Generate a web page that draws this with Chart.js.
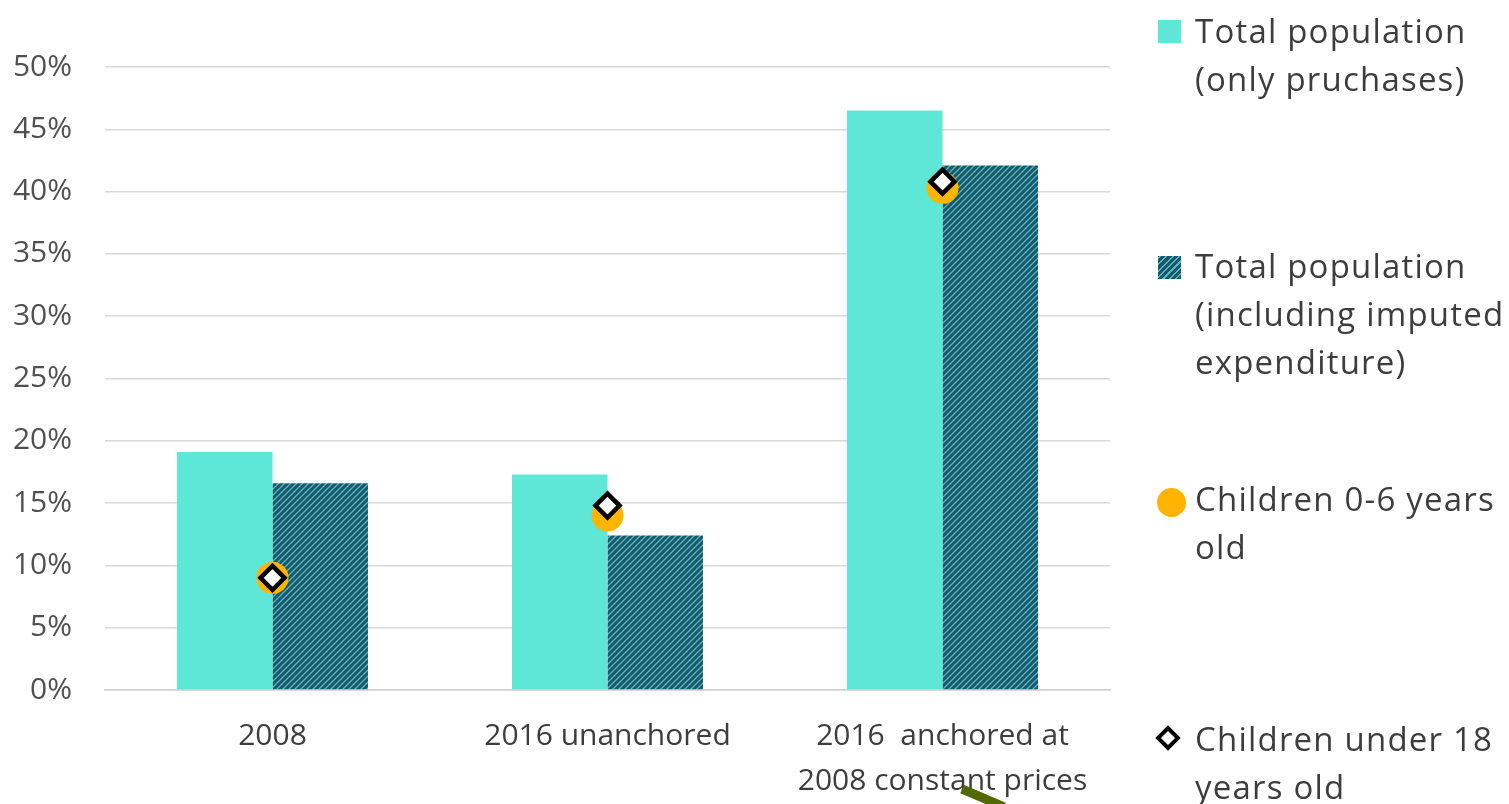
<!DOCTYPE html>
<html>
<head>
<meta charset="utf-8">
<script src="https://cdn.jsdelivr.net/npm/chart.js@4"></script>
<style>
  body { margin: 0; background: #fff; }
  #wrap { position: relative; width: 1509px; height: 804px; }
  .leg { position: absolute; left: 1195px; font-family: "Open Sans", sans-serif; font-size: 33px; line-height: 48px; letter-spacing: 1.2px; color: #3d3d3d; white-space: nowrap; }
  .mk { position: absolute; box-sizing: border-box; }
</style>
</head>
<body>
<div id="wrap">
  <canvas id="chart" width="1509" height="804"></canvas>
  <div class="mk" style="left:1158px;top:20px;width:23px;height:23px;background:#5ee6d6;"></div>
  <div class="leg" style="top:7px;">Total population<br>(only pruchases)</div>
  <div class="mk" style="left:1158px;top:256px;width:23px;height:23px;background:repeating-linear-gradient(-45deg,#145a6a 0 3px,#5fb0bd 3px 4.5px);"></div>
  <div class="leg" style="top:242px;">Total population<br>(including imputed<br>expenditure)</div>
  <div class="mk" style="left:1157px;top:488px;width:29px;height:29px;border-radius:50%;background:#ffb400;"></div>
  <div class="leg" style="top:475px;">Children 0-6 years<br>old</div>
  <div class="mk" style="left:1159px;top:729px;width:18px;height:18px;border:4px solid #000;background:#fff;transform:rotate(45deg);"></div>
  <div class="leg" style="top:715px;">Children under 18<br>years old</div>
</div>
<script>
// Data
const categories = ['2008', '2016 unanchored', ['2016  anchored at', '2008 constant prices']];
const onlyPurchases = [19.1, 17.3, 46.5];
const withImputed = [16.6, 12.4, 42.1];
const children06 = [9.0, 14.0, 40.3];
const childrenUnder18 = [9.0, 14.8, 40.8];
const yTicks = [0, 5, 10, 15, 20, 25, 30, 35, 40, 45, 50];

// Hatch pattern for the second bar series
function makeHatch() {
  const c = document.createElement('canvas');
  c.width = 6; c.height = 6;
  const g = c.getContext('2d');
  g.fillStyle = '#145a6a';
  g.fillRect(0, 0, 6, 6);
  g.strokeStyle = '#5fb0bd';
  g.lineWidth = 1.3;
  g.beginPath();
  g.moveTo(0, 6); g.lineTo(6, 0);
  g.moveTo(-1, 1); g.lineTo(1, -1);
  g.moveTo(5, 7); g.lineTo(7, 5);
  g.stroke();
  return g.createPattern(c, 'repeat');
}

// the stray olive arrow at the bottom of the picture
const arrowPlugin = {
  id: 'arrow',
  afterDraw(chart) {
    const ctx = chart.ctx;
    ctx.save();
    ctx.strokeStyle = '#526800';
    ctx.lineWidth = 9;
    ctx.beginPath();
    ctx.moveTo(962, 789);
    ctx.lineTo(1004, 807);
    ctx.stroke();
    ctx.restore();
  }
};

const ctx = document.getElementById('chart').getContext('2d');
new Chart(ctx, {
  type: 'bar',
  data: {
    labels: categories,
    datasets: [
      {
        label: 'Children under 18 years old',
        type: 'line',
        data: childrenUnder18,
        showLine: false,
        pointStyle: 'rectRot',
        pointRadius: 12,
        pointBorderWidth: 4.5,
        pointBackgroundColor: '#ffffff',
        pointBorderColor: '#000000',
        order: 1
      },
      {
        label: 'Children 0-6 years old',
        type: 'line',
        data: children06,
        showLine: false,
        pointStyle: 'circle',
        pointRadius: 16,
        pointBorderWidth: 0,
        pointBackgroundColor: '#ffb400',
        pointBorderColor: '#ffb400',
        order: 2
      },
      {
        label: 'Total population (only pruchases)',
        data: onlyPurchases,
        backgroundColor: '#5ee6d6',
        order: 3
      },
      {
        label: 'Total population (including imputed expenditure)',
        data: withImputed,
        backgroundColor: makeHatch(),
        order: 3
      }
    ]
  },
  options: {
    responsive: false,
    animation: false,
    layout: { padding: { left: 0, right: 399, top: 67, bottom: 0 } },
    datasets: { bar: { categoryPercentage: 0.57, barPercentage: 1 } },
    plugins: { legend: { display: false }, tooltip: { enabled: false } },
    scales: {
      x: {
        grid: { display: false, drawTicks: false },
        border: { color: '#d0d0d0', width: 1.5 },
        ticks: {
          color: '#3d3d3d',
          padding: 24,
          maxRotation: 0,
          autoSkip: false,
          font: { family: 'Open Sans', size: 30, lineHeight: 1.5 }
        },
        afterFit(scale) { scale.height = 114; }
      },
      y: {
        min: 0,
        max: 50,
        afterBuildTicks(scale) { scale.ticks = yTicks.map(v => ({ value: v })); },
        grid: { color: '#d9d9d9', lineWidth: 1.5, drawTicks: false },
        border: { display: false },
        ticks: {
          color: '#505050',
          padding: 33,
          font: { family: 'Open Sans', size: 30 },
          callback: v => v + '%'
        },
        afterFit(scale) { scale.width = 105; }
      }
    }
  },
  plugins: [arrowPlugin]
});
</script>
</body>
</html>
